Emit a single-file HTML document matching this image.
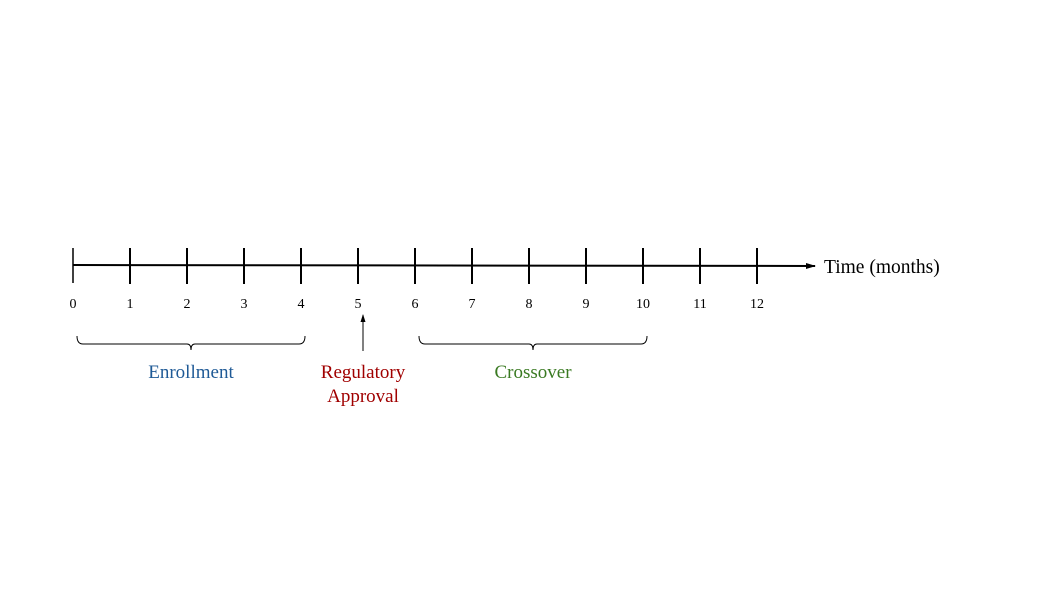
<!DOCTYPE html>
<html><head><meta charset="utf-8"><style>
html,body{margin:0;padding:0;background:#fff;width:1045px;height:598px;overflow:hidden}
text{font-family:"Liberation Serif",serif}
</style></head><body>
<svg id="chart" width="1045" height="598" viewBox="0 0 1045 598" xmlns="http://www.w3.org/2000/svg">
<defs><marker id="ah" markerUnits="userSpaceOnUse" markerWidth="10" markerHeight="8" refX="9" refY="4" orient="auto"><path d="M0,1 L10,4 L0,7 z" fill="#000"/></marker>
<marker id="ah2" markerUnits="userSpaceOnUse" markerWidth="8" markerHeight="8" refX="7" refY="4" orient="auto"><path d="M0,1.5 L8,4 L0,6.5 z" fill="#000"/></marker></defs>
<line x1="73" y1="265" x2="815" y2="266" stroke="#000" stroke-width="2" marker-end="url(#ah)"/>
<text x="824" y="273" font-size="19.5">Time (months)</text>
<g id="ticks"></g>
<g id="phases"></g>
</svg>
<script>
const months=[0,1,2,3,4,5,6,7,8,9,10,11,12];
const phaseNames=["Enrollment","Crossover"];
const phaseStart=[0,6];
const phaseEnd=[4,10];
const phaseColors=["#1f5a96","#3a7a22"];
const eventName=["Regulatory","Approval"];
const eventMonth=5;
const NS="http://www.w3.org/2000/svg";
const x=m=>73+m*57;
const tg=document.getElementById('ticks');
months.forEach(m=>{
  const l=document.createElementNS(NS,'line');
  
  
  l.setAttribute('x1',x(m));l.setAttribute('x2',x(m));l.setAttribute('y1',248);l.setAttribute('y2',m===0?283:284);
  l.setAttribute('stroke','#000');l.setAttribute('stroke-width',m===0?1.5:2);
  tg.appendChild(l);
  const t=document.createElementNS(NS,'text');
  
  
  t.setAttribute('x',x(m));t.setAttribute('y',308);t.setAttribute('font-size',14);t.setAttribute('text-anchor','middle');
  t.textContent=m;tg.appendChild(t);
});
const pg=document.getElementById('phases');
phaseNames.forEach((n,i)=>{
  const a=x(phaseStart[i])+4,b=x(phaseEnd[i])+4,mid=(a+b)/2;
  const p=document.createElementNS(NS,'path');
  
  
  p.setAttribute('d',`M${a},336 Q${a},344 ${a+6},344 L${mid-4},344 Q${mid},344 ${mid},350 Q${mid},344 ${mid+4},344 L${b-6},344 Q${b},344 ${b},336`);
  p.setAttribute('fill','none');p.setAttribute('stroke','#000');p.setAttribute('stroke-width',1);
  pg.appendChild(p);
  const t=document.createElementNS(NS,'text');
  
  
  t.setAttribute('x',mid);t.setAttribute('y',378);t.setAttribute('font-size',19);t.setAttribute('text-anchor','middle');t.setAttribute('fill',phaseColors[i]);
  t.textContent=n;pg.appendChild(t);
});
const ar=document.createElementNS(NS,'line');


ar.setAttribute('x1',x(eventMonth)+5);ar.setAttribute('x2',x(eventMonth)+5);ar.setAttribute('y1',351);ar.setAttribute('y2',315);
ar.setAttribute('stroke','#000');ar.setAttribute('stroke-width',1);ar.setAttribute('marker-end','url(#ah2)');
pg.appendChild(ar);
eventName.forEach((w,i)=>{
  const t=document.createElementNS(NS,'text');
  
  
  t.setAttribute('x',x(eventMonth)+5);t.setAttribute('y',378+24*i);t.setAttribute('font-size',19);t.setAttribute('text-anchor','middle');t.setAttribute('fill','#a00000');
  t.textContent=w;pg.appendChild(t);
});
</script>
</body></html>
